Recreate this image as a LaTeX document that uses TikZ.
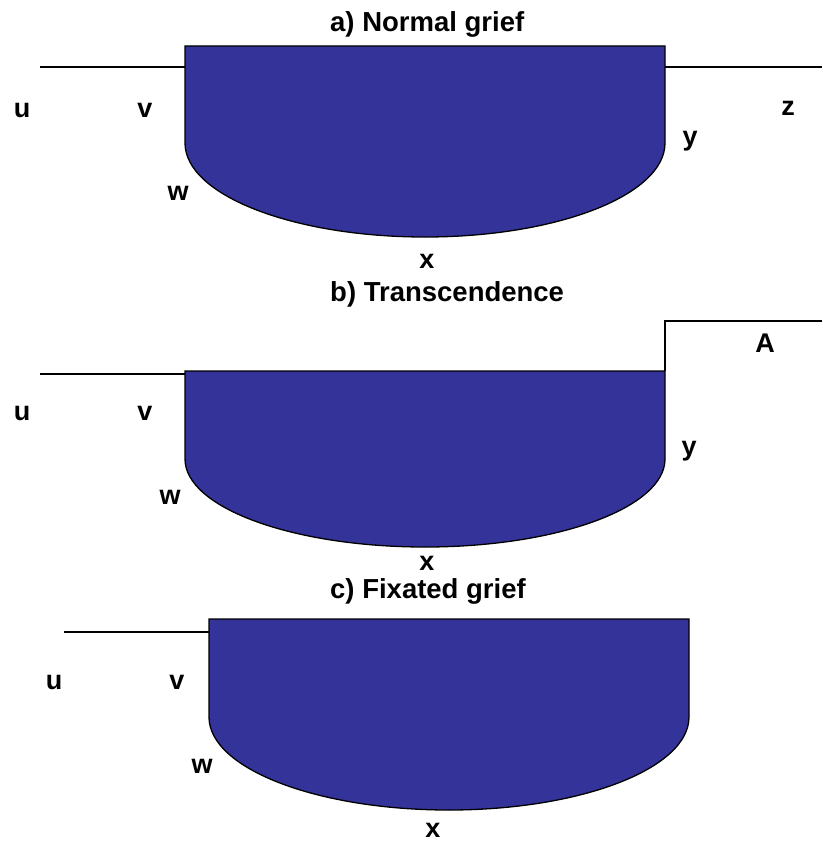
\documentclass[tikz,border=0pt]{standalone}
\usepackage{fontspec}
\setmainfont{Liberation Sans}
\usepackage{xcolor}
\definecolor{grief}{HTML}{333399}
\tikzset{
  basin/.style={draw=black,line width=1.3pt,fill=grief},
  ground/.style={draw=black,line width=1.3pt},
  lbl/.style={font=\fontsize{27}{30}\selectfont\bfseries,anchor=base,inner sep=0pt},
  ttl/.style={font=\fontsize{27.5}{30}\selectfont\bfseries,anchor=base west,inner sep=0pt},
}
\begin{document}
\begin{tikzpicture}[x=1pt,y=-1pt]
\useasboundingbox (0,0) rectangle (822,843);

% a) normal grief
\node[ttl] (ta) at (330,32) {a) Normal grief};
\draw[basin] (185,46) -- (665,46) -- (665,143) arc[start angle=0,end angle=180,x radius=240,y radius=94] -- cycle;
\draw[ground] (40,67) -- (185,67);
\draw[ground] (665,67) -- (822,67);
\node[lbl] (ua) at (22,117) {u};
\node[lbl] (va) at (145,117) {v};
\node[lbl] (wa) at (178,200) {w};
\node[lbl] (xa) at (427,268) {x};
\node[lbl] (ya) at (690,145) {y};
\node[lbl] (za) at (788,115) {z};

% b) transcendence
\node[ttl] (tb) at (330,301) {b) Transcendence};
\draw[basin] (185,371) -- (665,371) -- (665,459) arc[start angle=0,end angle=180,x radius=240,y radius=88] -- cycle;
\draw[ground] (40,374) -- (185,374);
\draw[ground] (665,371) -- (665,321) -- (822,321);
\node[lbl] (ub) at (22,420) {u};
\node[lbl] (vb) at (145,420) {v};
\node[lbl] (wb) at (170,504) {w};
\node[lbl] (xb) at (427,570) {x};
\node[lbl] (yb) at (689,455) {y};
\node[lbl] (Ab) at (765,352) {A};

% c) fixated grief
\node[ttl] (tc) at (330,598) {c) Fixated grief};
\draw[basin] (209,619) -- (689,619) -- (689,717) arc[start angle=0,end angle=180,x radius=240,y radius=93] -- cycle;
\draw[ground] (64,632) -- (209,632);
\node[lbl] (uc) at (54,689) {u};
\node[lbl] (vc) at (177,689) {v};
\node[lbl] (wc) at (202,773) {w};
\node[lbl] (xc) at (433,837) {x};

\end{tikzpicture}
\end{document}
